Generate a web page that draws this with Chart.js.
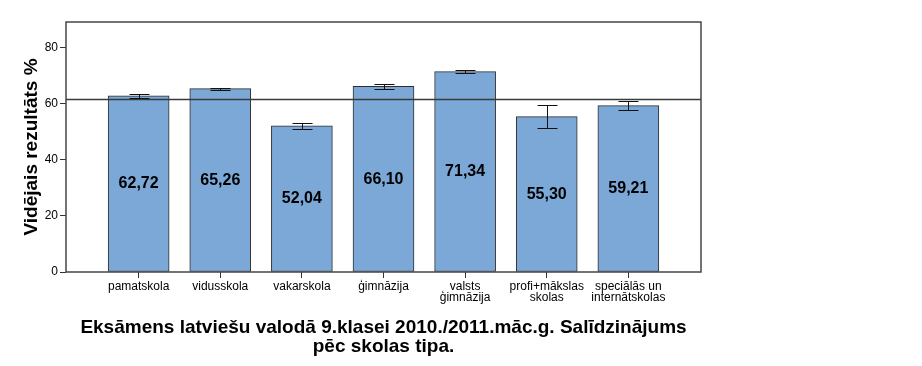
<!DOCTYPE html>
<html>
<head>
<meta charset="utf-8">
<title>Eksāmens latviešu valodā 9.klasei</title>
<script src="https://cdn.jsdelivr.net/npm/chart.js@4.4.0/dist/chart.umd.min.js"></script>
<style>
  body { margin: 0; background: #fff; }
  #wrap { width: 922px; height: 366px; }
</style>
</head>
<body>
<div id="wrap"><canvas id="chart" width="922" height="366"></canvas></div>
<script>
// skolu tipi (x ass)
const categories = ['pamatskola', 'vidusskola', 'vakarskola', 'ģimnāzija',
  ['valsts', 'ģimnāzija'], ['profi+mākslas', 'skolas'], ['speciālās un', 'internātskolas']];
// vidējie rezultāti %
const means = [62.72, 65.26, 52.04, 66.10, 71.34, 55.30, 59.21];
// kļūdu joslas (apakša / augša)
const ciLow = [62.1, 64.95, 51.0, 65.2, 70.8, 51.3, 57.6];
const ciHigh = [63.3, 65.6, 53.1, 67.0, 71.9, 59.5, 61.0];
// kopējais vidējais
const overallMean = 61.7;
const yTicks = [0, 20, 40, 60, 80];
const yMax = 89;

const FONT = '"Liberation Sans", Arial, sans-serif';

const framePlugin = {
  id: 'frame',
  afterDatasetsDraw(chart) {
    const ctx = chart.ctx, a = chart.chartArea, y = chart.scales.y;
    ctx.save();
    // kopējā vidējā līnija
    const ym = Math.round(y.getPixelForValue(overallMean)) + 0.5;
    ctx.strokeStyle = '#3a3a3a';
    ctx.lineWidth = 1.5;
    ctx.beginPath();
    ctx.moveTo(a.left, ym);
    ctx.lineTo(a.right, ym);
    ctx.stroke();
    // rāmis
    ctx.strokeStyle = '#454545';
    ctx.lineWidth = 1.5;
    ctx.strokeRect(a.left, a.top, a.right - a.left, a.bottom - a.top);
    ctx.restore();
  }
};

const errorPlugin = {
  id: 'errbars',
  afterDatasetsDraw(chart) {
    const ctx = chart.ctx, x = chart.scales.x, y = chart.scales.y;
    ctx.save();
    ctx.strokeStyle = '#111';
    ctx.lineWidth = 1;
    means.forEach((m, i) => {
      const cx = Math.round(x.getPixelForValue(i)) + 0.5;
      const y1 = Math.round(y.getPixelForValue(ciLow[i])) + 0.5;
      const y2 = Math.round(y.getPixelForValue(ciHigh[i])) + 0.5;
      ctx.beginPath();
      ctx.moveTo(cx, y1); ctx.lineTo(cx, y2);
      ctx.moveTo(cx - 10, y1); ctx.lineTo(cx + 10, y1);
      ctx.moveTo(cx - 10, y2); ctx.lineTo(cx + 10, y2);
      ctx.stroke();
    });
    // vērtības joslās
    ctx.fillStyle = '#000';
    ctx.font = 'bold 16px ' + FONT;
    ctx.textAlign = 'center';
    ctx.textBaseline = 'middle';
    means.forEach((m, i) => {
      ctx.fillText(m.toFixed(2).replace('.', ','), x.getPixelForValue(i), y.getPixelForValue(m / 2));
    });
    ctx.restore();
  }
};

new Chart(document.getElementById('chart'), {
  type: 'bar',
  data: {
    datasets: [{
      data: means.map((v, i) => ({ x: i, y: v })),
      backgroundColor: 'rgb(123,168,214)',
      borderColor: '#2e2e2e',
      borderWidth: 1,
      borderSkipped: false,
      barThickness: 61
    }]
  },
  options: {
    responsive: false,
    animation: false,
    layout: { padding: { left: 0, right: 221, top: 22, bottom: 10 } },
    plugins: {
      legend: { display: false },
      tooltip: { enabled: false },
      title: {
        display: true,
        position: 'bottom',
        fullSize: false,
        text: ['Eksāmens latviešu valodā 9.klasei 2010./2011.māc.g. Salīdzinājums', 'pēc skolas tipa.'],
        color: '#000',
        font: { family: FONT, size: 19, weight: 'bold', lineHeight: 1 },
        padding: { top: 0, bottom: 0 }
      }
    },
    scales: {
      x: {
        type: 'linear',
        min: -0.89,
        max: 6.89,
        offset: false,
        afterBuildTicks(axis) { axis.ticks = categories.map((c, i) => ({ value: i })); },
        afterFit(axis) { axis.height = 46; },
        ticks: {
          autoSkip: false,
          maxRotation: 0,
          padding: 3,
          color: '#000',
          font: { family: FONT, size: 12, lineHeight: 0.95 },
          callback: (v) => categories[v]
        },
        grid: { offset: false, drawOnChartArea: false, drawTicks: true, tickLength: 6, color: '#333' },
        border: { display: false }
      },
      y: {
        min: 0,
        max: yMax,
        afterBuildTicks(axis) { axis.ticks = yTicks.map(v => ({ value: v })); },
        afterFit(axis) { axis.width = 66; },
        ticks: {
          padding: 2,
          color: '#000',
          font: { family: FONT, size: 12 }
        },
        grid: { drawOnChartArea: false, drawTicks: true, tickLength: 6, color: '#333' },
        border: { display: false },
        title: {
          display: true,
          text: 'Vidējais rezultāts %',
          color: '#000',
          font: { family: FONT, size: 19, weight: 'bold' },
          padding: { top: 20, bottom: 0 }
        }
      }
    }
  },
  plugins: [framePlugin, errorPlugin]
});
</script>
</body>
</html>
